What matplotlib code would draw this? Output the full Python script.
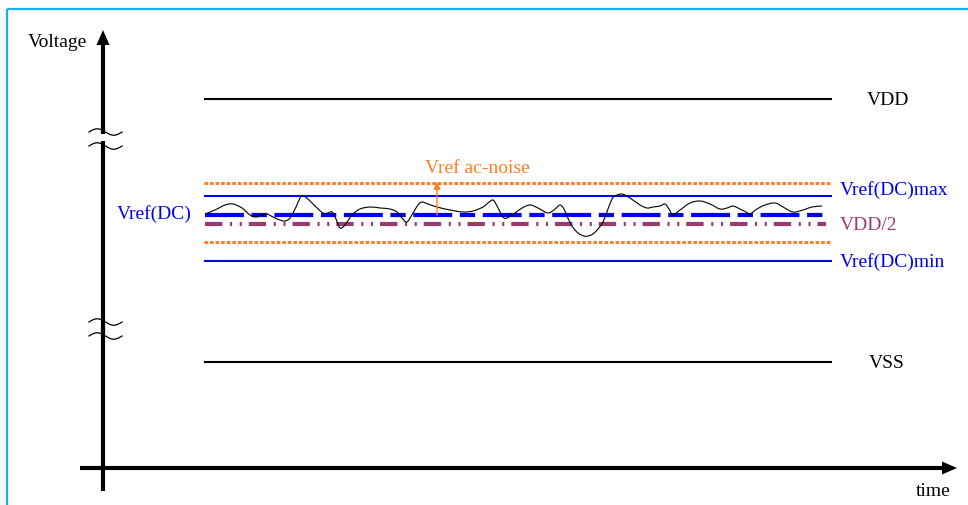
import numpy as np
import matplotlib
matplotlib.use("Agg")
import matplotlib.pyplot as plt
from matplotlib.patches import Polygon, Rectangle, PathPatch
from matplotlib.path import Path

plt.rcParams['font.family'] = ['Liberation Serif', 'DejaVu Serif']
plt.rcParams['lines.scale_dashes'] = False

# ---- data (diagram coordinates, y grows downward) ----
level_names = ["VDD", "Vref(DC)max", "noise_hi", "Vref(DC)", "VDD/2", "noise_lo", "Vref(DC)min", "VSS"]
level_y = [100, 197, 184, 216, 225, 243, 262, 363]

noise_x = [205, 215, 225, 233, 242, 250, 256, 262, 267, 273, 280, 285, 290, 296, 300, 303, 308, 315,
           323, 328, 332, 336, 340, 345, 352, 360, 370, 380, 390, 397, 402, 407, 413, 418, 422, 428,
           437, 450, 463, 473, 483, 488, 493, 497, 503, 507, 515, 522, 530, 538, 548, 555, 560, 564,
           567, 572, 578, 584, 588, 593, 598, 603, 608, 612, 615, 622, 630, 640, 647, 653, 660, 665,
           669, 673, 680, 690, 700, 710, 720, 727, 733, 740, 746, 750, 757, 765, 775, 783, 793, 803,
           812, 822]
noise_y = [215, 211, 206, 205, 209, 216, 218, 216, 215, 218, 221, 222, 219, 208, 199, 197, 200, 207,
           214, 214, 213, 220, 229, 226, 216, 210, 208, 209, 210, 213, 219, 223, 214, 206, 203, 205,
           208, 211, 213, 212, 208, 204, 201, 207, 218, 219, 214, 209, 206, 209, 214, 210, 206, 210,
           217, 227, 234, 237, 237, 235, 230, 223, 210, 200, 197, 195, 199, 206, 209, 208, 207, 205,
           210, 216, 211, 204, 202, 205, 210, 209, 207, 210, 213, 215, 210, 206, 204, 208, 213, 211,
           208, 207]

BLUE = "#0000F0"
ORANGE = "#FF7F27"
PURPLE = "#9B3A6E"
BORDER = "#1AAEE8"

fig = plt.figure(figsize=(9.68, 5.06), dpi=100)
ax = fig.add_axes([0, 0, 1, 1])
ax.set_xlim(0, 968)
ax.set_ylim(506, 0)
ax.axis("off")

# border
ax.add_patch(Rectangle((7, 10), 1000, 600, fill=False, edgecolor=BORDER, lw=1.6))

# y axis with breaks
AX_X = 103
ax.plot([AX_X, AX_X], [492, 327], color="black", lw=3, solid_capstyle="butt")
ax.plot([AX_X, AX_X], [333, 142], color="black", lw=3, solid_capstyle="butt")
ax.plot([AX_X, AX_X], [135, 44], color="black", lw=3, solid_capstyle="butt")
ax.add_patch(Polygon([[AX_X, 31], [96.5, 46], [109.5, 46]], closed=True, color="black", lw=0))
for yb in [133, 147, 323, 337]:
    t = np.linspace(0, 1, 60)
    ax.plot(89 + 33 * t, yb - 3.2 * np.sin(2 * np.pi * t), color="black", lw=0.9)

# x axis
AX_Y = 469
ax.plot([80, 945], [AX_Y, AX_Y], color="black", lw=3, solid_capstyle="butt")
ax.add_patch(Polygon([[957, AX_Y], [942, AX_Y - 6.5], [942, AX_Y + 6.5]], closed=True, color="black", lw=0))

# levels
x0, x1 = 205, 831
ax.plot([x0, x1], [level_y[0], level_y[0]], color="black", lw=1.5)
ax.plot([x0, x1], [level_y[7], level_y[7]], color="black", lw=1.5)
ax.plot([x0, x1], [level_y[1], level_y[1]], color=BLUE, lw=1.5)
ax.plot([x0, x1], [level_y[6], level_y[6]], color=BLUE, lw=1.5)
for yy in (level_y[2], level_y[5]):
    ax.plot([x0 - 1, x1], [yy, yy], color=ORANGE, lw=2.2, linestyle=(0, (2.6, 1.4)))

# noise waveform as a smooth Bezier path through the read points (Catmull-Rom handles)
P = np.column_stack([noise_x, noise_y]).astype(float)
verts = [P[0]]
codes = [Path.MOVETO]
for i in range(len(P) - 1):
    p0 = P[i - 1] if i > 0 else P[i]
    p1, p2 = P[i], P[i + 1]
    p3 = P[i + 2] if i + 2 < len(P) else P[i + 1]
    verts += [p1 + (p2 - p0) / 6.0, p2 - (p3 - p1) / 6.0, p2]
    codes += [Path.CURVE4] * 3
ax.add_patch(PathPatch(Path(verts, codes), fill=False, edgecolor="black", lw=0.8, zorder=3))

ax.plot([x0, 826], [level_y[3], level_y[3]], color=BLUE, lw=3,
        linestyle=(0, (28, 5.5, 11, 5.5)), zorder=2)
ax.plot([x0, 826], [level_y[4], level_y[4]], color=PURPLE, lw=3,
        linestyle=(0, (12.5, 5.5, 1.5, 5.5, 1.5, 5)), zorder=2)

# noise arrow
ax.annotate("", xy=(437, 183), xytext=(437, 216),
            arrowprops=dict(arrowstyle="-|>", color=ORANGE, lw=1, mutation_scale=10, shrinkA=0, shrinkB=0))

fs = 14
ax.text(57, 42, "Voltage", fontsize=fs, ha="center", va="center", color="black")
ax.text(888, 100, "VDD", fontsize=fs, ha="center", va="center", color="black")
ax.text(887, 364, "VSS", fontsize=fs, ha="center", va="center", color="black")
ax.text(933, 492, "time", fontsize=fs, ha="center", va="center", color="black")
ax.text(154, 214, "Vref(DC)", fontsize=fs, ha="center", va="center", color=BLUE)
ax.text(840, 190, "Vref(DC)max", fontsize=fs, ha="left", va="center", color=BLUE)
ax.text(840, 225, "VDD/2", fontsize=fs, ha="left", va="center", color=PURPLE)
ax.text(840, 262, "Vref(DC)min", fontsize=fs, ha="left", va="center", color=BLUE)
ax.text(477, 168, "Vref ac-noise", fontsize=fs, ha="center", va="center", color=ORANGE)

fig.savefig("out.png", dpi=100)
